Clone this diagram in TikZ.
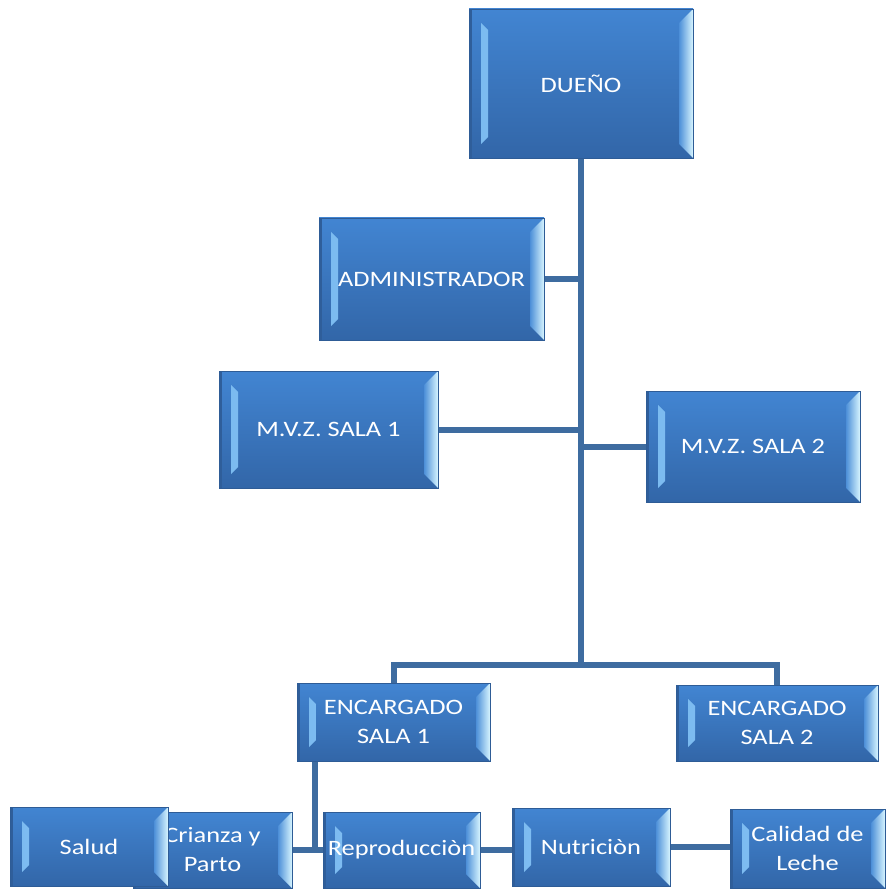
\documentclass[tikz,border=0pt]{standalone}
\usepackage{fontspec}
\setmainfont[FakeStretch=1.2]{Carlito}
\usetikzlibrary{backgrounds}
\definecolor{facetop}{RGB}{66,133,210}
\definecolor{facebot}{RGB}{50,102,168}
\definecolor{boxedge}{RGB}{46,92,150}
\definecolor{bevA}{RGB}{120,185,240}
\definecolor{bevB}{RGB}{215,245,255}
\definecolor{connc}{RGB}{62,108,160}
\tikzset{
  bbox/.style={rectangle, draw=boxedge, line width=0.8pt, top color=facetop, bottom color=facebot,
    text=white, font=\fontsize{22}{29}\selectfont, align=center, inner sep=0pt,
    path picture={
      \path[left color=bevA, right color=bevA!60!white]
        ([shift={(12pt,-14pt)}]path picture bounding box.north west) --
        ([shift={(19pt,-21pt)}]path picture bounding box.north west) --
        ([shift={(19pt,21pt)}]path picture bounding box.south west) --
        ([shift={(12pt,14pt)}]path picture bounding box.south west) -- cycle;
      \path[left color=facetop!80!bevA, right color=bevB]
        (path picture bounding box.north east) --
        ([shift={(-14pt,-14pt)}]path picture bounding box.north east) --
        ([shift={(-14pt,14pt)}]path picture bounding box.south east) --
        (path picture bounding box.south east) -- cycle;
      \path[fill=boxedge!80!facebot]
        (path picture bounding box.north west) rectangle ([xshift=3pt]path picture bounding box.south west);
    }},
  cline/.style={draw=connc, line width=6pt}
}
\begin{document}
\begin{tikzpicture}[x=1pt,y=-1pt]
\useasboundingbox (0,0) rectangle (885,890);
\node[bbox, minimum width=224pt, minimum height=149pt] (due) at (581,83.5) {DUEÑO};
\node[bbox, minimum width=225pt, minimum height=122pt] (adm) at (431.5,279) {ADMINISTRADOR};
\node[bbox, minimum width=219pt, minimum height=117pt] (m1) at (328.5,429.5) {M.V.Z. SALA 1};
\node[bbox, minimum width=214pt, minimum height=111pt] (m2) at (753,446.5) {M.V.Z. SALA 2};
\node[bbox, minimum width=193pt, minimum height=78pt] (e1) at (393.5,722) {ENCARGADO\\SALA 1};
\node[bbox, minimum width=202pt, minimum height=76pt] (e2) at (777,723) {ENCARGADO\\SALA 2};
\node[bbox, minimum width=159pt, minimum height=76pt] (cri) at (212.5,850) {Crianza y\\Parto};
\node[bbox, minimum width=158pt, minimum height=79pt] (sal) at (89,846.5) {Salud};
\node[bbox, minimum width=157pt, minimum height=76pt] (rep) at (401.5,850) {Reproducciòn};
\node[bbox, minimum width=158pt, minimum height=78pt] (nut) at (591,847) {Nutriciòn};
\node[bbox, minimum width=155pt, minimum height=79pt] (cal) at (807.5,848.5) {Calidad de\\Leche};
\coordinate (jt) at (581,665);
\begin{pgfonlayer}{background}
\draw[cline] (due.south) -- (jt);
\draw[cline] (adm.east) -- (adm.east -| due.south);
\draw[cline] (m1.east) -- (m1.east -| due.south);
\draw[cline] (m2.west) -- (m2.west -| due.south);
\draw[cline] (e1.north) |- (jt) -| (e2.north);
\draw[cline] ([xshift=18pt]e1.south west) |- (cri.east);
\draw[cline] (cri.east) -- (rep.west);
\draw[cline] (rep.east) -- (rep.east -| nut.west);
\draw[cline] (nut.east) -- (nut.east -| cal.west);
\end{pgfonlayer}
\end{tikzpicture}
\end{document}
